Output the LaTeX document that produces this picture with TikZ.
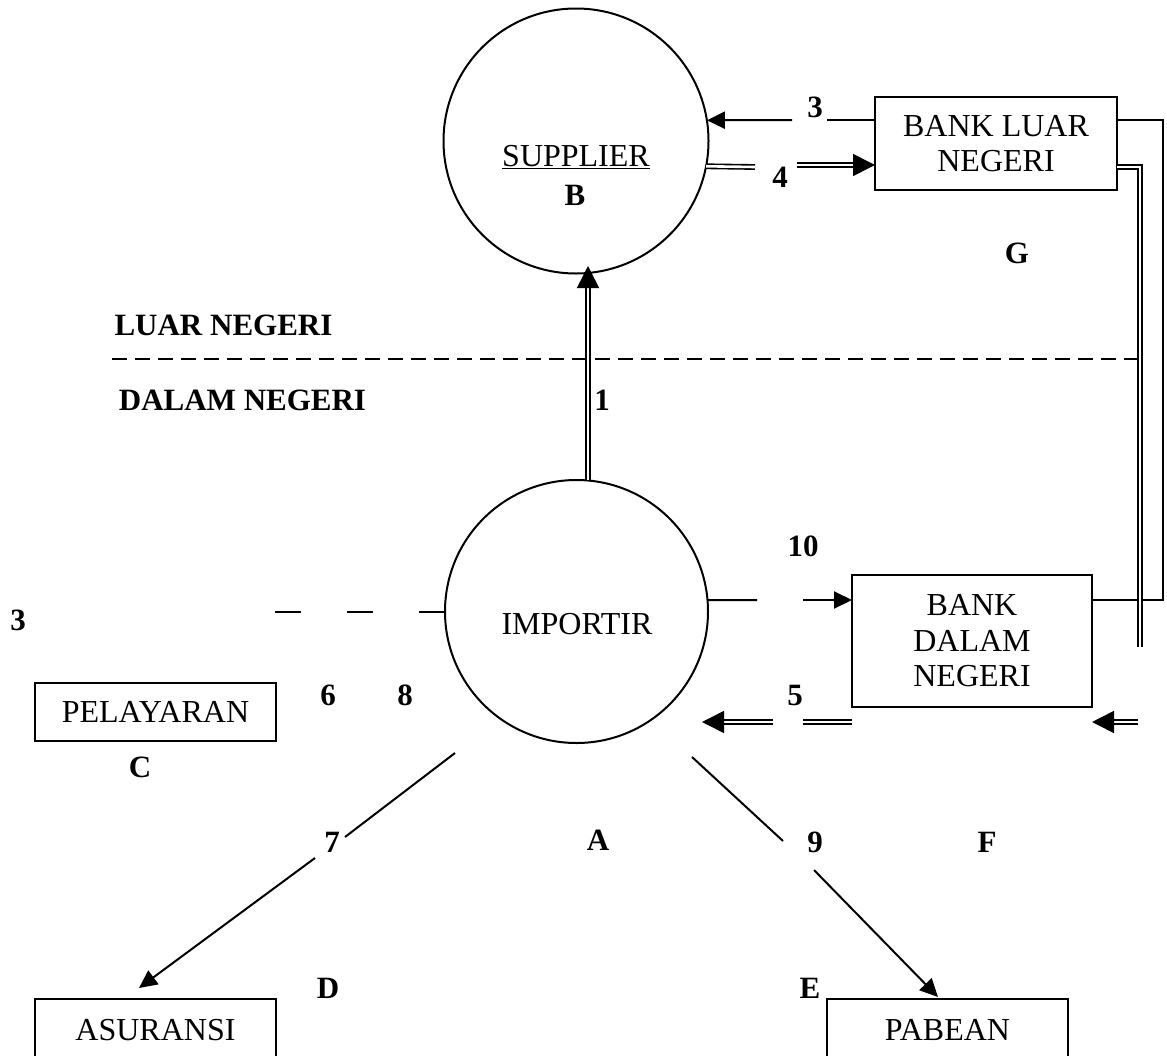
\documentclass[tikz,border=0pt]{standalone}
\usepackage{fontspec}
\setmainfont{Liberation Serif}
\usetikzlibrary{arrows.meta}
\begin{document}
\begin{tikzpicture}[x=1pt,y=-1pt,
  every node/.style={inner sep=0pt, outer sep=0pt},
  ln/.style={line width=2pt},
  circ/.style={draw, circle, line width=2pt, inner sep=0pt},
  box/.style={draw, rectangle, line width=2pt, minimum width=241pt, align=center, font=\fontsize{32}{35.5}\selectfont},
  txt/.style={font=\fontsize{32}{35}\selectfont},
  lab/.style={font=\fontsize{31}{34}\selectfont\bfseries},
  arr/.style={line width=2pt, -{Triangle[length=18pt,width=17pt]}},
  dbl/.style={double, double distance=2.6pt, line width=1.6pt},
  darr/.style={dbl, -{Triangle[length=22pt,width=22pt]}},
  divider/.style={line width=2pt, dash pattern=on 15pt off 8pt}]
\useasboundingbox (0,0) rectangle (1167,1055);

% main nodes
\node[circ, minimum size=265pt] (sup) at (576,141) {};
\node[circ, minimum size=263pt] (imp) at (576.5,611.5) {};
\node[txt, anchor=base] (suptxt) at (576,166) {\underline{SUPPLIER}};
\node[lab, anchor=base] (supB) at (575,205) {B};
\node[txt] (imptxt) at (577,624) {IMPORTIR};
\node[box, minimum width=242pt, minimum height=93pt] (bl) at (996,143.5) {BANK LUAR\\NEGERI};
\node[box, minimum width=240pt, minimum height=132pt] (bd) at (972,641) {BANK\\DALAM\\NEGERI};
\node[box, minimum height=58pt] (pel) at (155.5,712) {PELAYARAN};
\node[box, minimum height=62pt] (asu) at (155.5,1030) {ASURANSI};
\node[box, minimum height=62pt] (pab) at (947.5,1030) {PABEAN};

% labels
\node[lab] (n3a) at (815,107) {3};
\node[lab] (n4) at (780,177) {4};
\node[lab] (nG) at (1017,253) {G};
\node[lab] (nLN) at (223.5,325) {LUAR NEGERI};
\node[lab] (nDN) at (242.5,400) {DALAM NEGERI};
\node[lab] (n1) at (602,400) {1};
\node[lab] (n10) at (803,546) {10};
\node[lab] (n3b) at (18,620) {3};
\node[lab] (n6) at (328,695) {6};
\node[lab] (n8) at (405,695) {8};
\node[lab] (n5) at (795,695) {5};
\node[lab] (nC) at (140,767) {C};
\node[lab] (n7) at (332,842) {7};
\node[lab] (nA) at (598,840) {A};
\node[lab] (n9) at (815,842) {9};
\node[lab] (nF) at (987,842) {F};
\node[lab] (nD) at (328,988) {D};
\node[lab] (nE) at (810,988) {E};

% coordinates
\coordinate (a1t) at (588,266);
\coordinate (c3) at (827,120);
\coordinate (c3t) at (792,120);
\coordinate (c4) at (755,167);
\coordinate (c4t) at (797,165);
\coordinate (rc) at (1163,600);
\coordinate (dc) at (1140,167);
\coordinate (de) at (1140,647);
\coordinate (c10a) at (757,600);
\coordinate (c10b) at (803,600);
\coordinate (c5t) at (702,722);
\coordinate (c5s) at (773,722);
\coordinate (c5b) at (803,722);
\coordinate (c5r) at (1138,722);
\coordinate (c8) at (275,611.5);
\coordinate (c7a) at (455,753);
\coordinate (c7b) at (345,837);
\coordinate (c7c) at (315,858);
\coordinate (c7t) at (139,988);
\coordinate (c9a) at (692,757);
\coordinate (c9b) at (783,841);
\coordinate (c9c) at (814,870);
\coordinate (c9t) at (938,997);
\coordinate (dl) at (112,359);
\coordinate (dr) at (1140,359);

% divider
\draw[divider] (dl) -- (dr);

% flow 1
\draw[darr] (imp.north -| a1t) -- (a1t);
% flow 3
\draw[ln] (bl.west |- c3) -- (c3);
\draw[arr] (c3t) -- (sup.9);
% flow 4
\draw[dbl] (sup.-11) -- (c4);
\draw[darr] (c4t) -- (bl.west |- c4t);
% right links
\draw[ln] (bl.east |- c3) -| (rc) -- (bd.east |- rc);
\draw[dbl] (bl.east |- c4) -- (dc) -- (de);
% flow 10
\draw[ln] (imp.5) -- (c10a);
\draw[arr] (c10b) -- (bd.west |- c10b);
% flow 5
\draw[darr] (c5s) -- (c5t);
\draw[dbl] (bd.west |- c5b) -- (c5b);
\draw[darr] (c5r) -- (bd.east |- c5r);
% flow 6/8
\draw[ln, dash pattern=on 26pt off 46pt] (imp.west) -- (c8);
% flow 7
\draw[ln] (c7a) -- (c7b);
\draw[arr] (c7c) -- (c7t);
% flow 9
\draw[ln] (c9a) -- (c9b);
\draw[arr] (c9c) -- (c9t);
\end{tikzpicture}
\end{document}
